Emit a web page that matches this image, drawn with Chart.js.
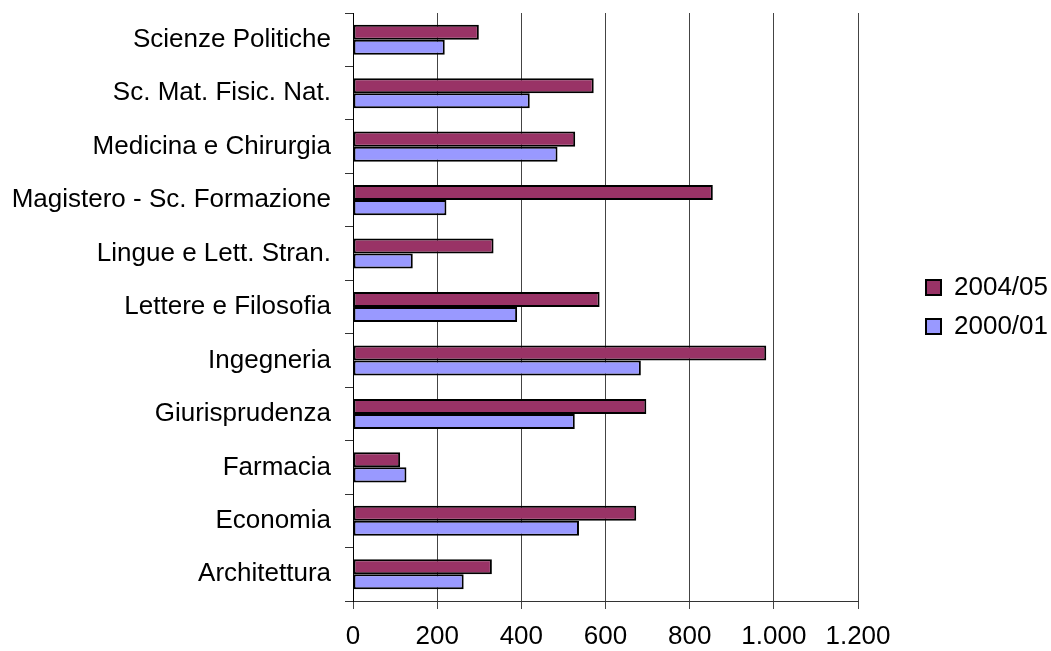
<!DOCTYPE html>
<html>
<head>
<meta charset="utf-8">
<script src="https://cdn.jsdelivr.net/npm/chart.js@4/dist/chart.umd.min.js"></script>
<style>
    html, body { margin: 0; padding: 0; background: #fff; }
    #wrap { width: 1051px; height: 651px; }
</style>
</head>
<body>
<div id="wrap"><canvas id="myChart" width="1051" height="651"></canvas></div>
<script>
var facolta = ['Scienze Politiche', 'Sc. Mat. Fisic. Nat.', 'Medicina e Chirurgia',
    'Magistero - Sc. Formazione', 'Lingue e Lett. Stran.', 'Lettere e Filosofia',
    'Ingegneria', 'Giurisprudenza', 'Farmacia', 'Economia', 'Architettura'];
var anno2004 = [299, 572, 528, 855, 334, 586, 982, 697, 112, 673, 330];
var anno2000 = [218, 420, 486, 222, 142, 390, 684, 527, 127, 537, 263];
var xTicks = [0, 200, 400, 600, 800, 1000, 1200];

var font = "'Liberation Sans', Arial, sans-serif";

// 1000 -> 1.000
function itNum(v) {
    return String(v).replace(/\B(?=(\d{3})+(?!\d))/g, '.');
}

// legend sits against the right edge, centred on the plot (like excel)
var legendPos = {
    id: 'legendPos',
    afterLayout: function (chart) {
        var lg = chart.legend;
        var w = lg.right - lg.left;
        lg.left = 913;
        lg.right = 913 + w;
        lg.top = chart.chartArea.top;
        lg.bottom = chart.chartArea.bottom;
    }
};

var ctx = document.getElementById('myChart').getContext('2d');
var barChart = new Chart(ctx, {
    type: 'bar',
    data: {
        labels: facolta,
        datasets: [{
            label: '2004/05',
            data: anno2004,
            backgroundColor: '#993366',
            borderColor: '#000',
            borderWidth: 2,
            borderSkipped: false
        }, {
            label: '2000/01',
            data: anno2000,
            backgroundColor: '#9999FF',
            borderColor: '#000',
            borderWidth: 2,
            borderSkipped: false
        }]
    },
    options: {
        indexAxis: 'y',
        responsive: false,
        animation: false,
        categoryPercentage: 0.5625,
        barPercentage: 1,
        layout: {
            padding: { top: 13, left: 0, right: 0, bottom: 0 }
        },
        plugins: {
            tooltip: { enabled: false },
            legend: {
                position: 'right',
                labels: {
                    color: '#000',
                    font: { family: font, size: 26 },
                    boxWidth: 15,
                    boxHeight: 15,
                    padding: 13
                }
            }
        },
        scales: {
            x: {
                min: 0,
                max: 1200,
                afterBuildTicks: function (scale) {
                    scale.ticks = xTicks.map(function (v) { return { value: v }; });
                },
                afterFit: function (scale) {
                    scale.height = 50;
                    scale.paddingRight = 193;
                },
                grid: {
                    color: '#444',
                    lineWidth: 1,
                    tickLength: 8
                },
                border: { color: '#333', width: 1 },
                ticks: {
                    color: '#000',
                    padding: 12,
                    font: { family: font, size: 26 },
                    callback: function (v) { return itNum(v); }
                }
            },
            y: {
                afterFit: function (scale) {
                    scale.width = 353;
                    scale.paddingTop = 0;
                    scale.paddingBottom = 0;
                },
                grid: {
                    drawOnChartArea: false,
                    color: '#333',
                    tickLength: 8
                },
                border: { color: '#000', width: 1 },
                ticks: {
                    color: '#000',
                    padding: 14,
                    font: { family: font, size: 26 }
                }
            }
        }
    },
    plugins: [legendPos]
});
</script>
</body>
</html>
